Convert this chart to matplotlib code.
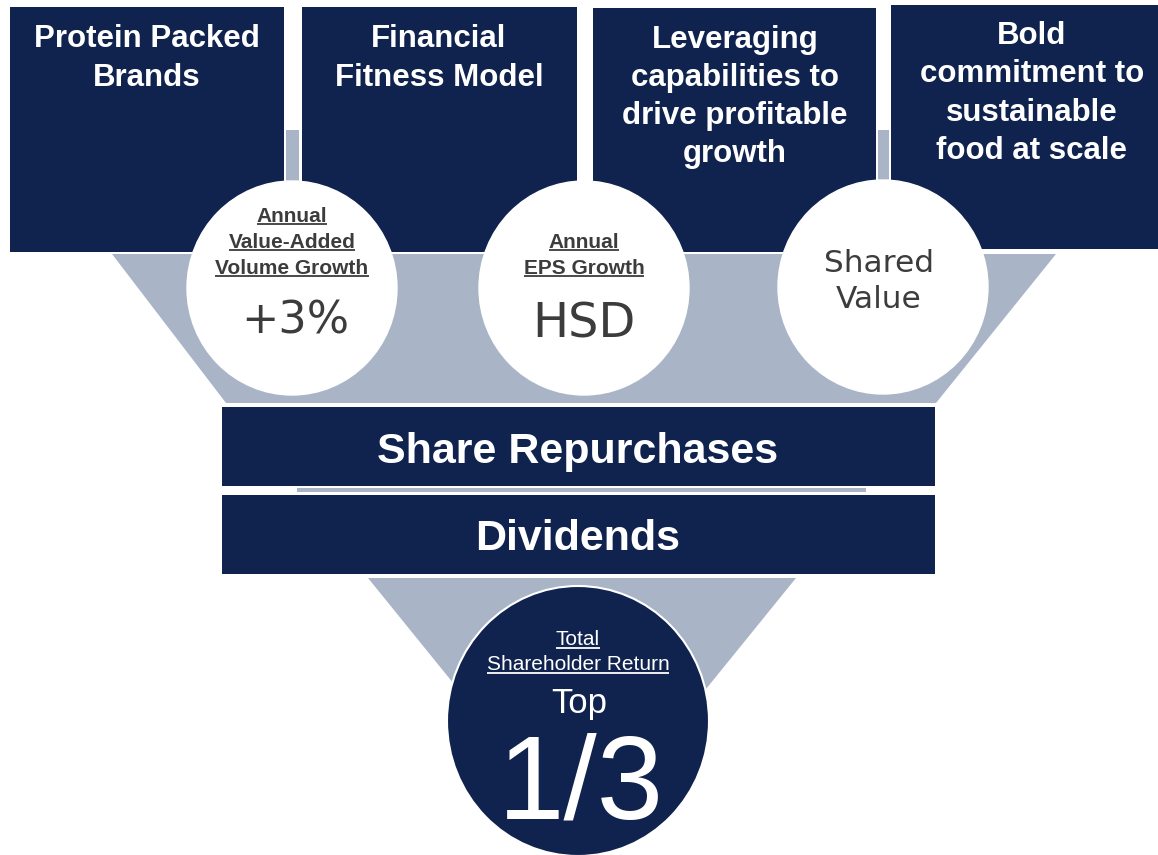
import matplotlib
matplotlib.use("Agg")
import matplotlib.pyplot as plt
from matplotlib.patches import Rectangle, Ellipse, Polygon

# ---------------- content ----------------
pillar_titles = [
    ["Protein Packed", "Brands"],
    ["Financial", "Fitness Model"],
    ["Leveraging", "capabilities to", "drive profitable", "growth"],
    ["Bold", "commitment to", "sustainable", "food at scale"],
]
metric_headings = [
    ["Annual", "Value-Added", "Volume Growth"],
    ["Annual", "EPS Growth"],
    [],
]
metric_values = [["+3%"], ["HSD"], ["Shared", "Value"]]
return_levers = ["Share Repurchases", "Dividends"]
tsr_heading = ["Total", "Shareholder Return"]
tsr_values = ["Top", "1/3"]

# ---------------- style / layout ----------------
NAVY = "#10234F"
GREY = "#A9B5C7"
DARK = "#3C3C3C"
W, H = 1158, 855

fig = plt.figure(figsize=(W / 100, H / 100), dpi=100)
ax = fig.add_axes([0, 0, 1, 1])
ax.set_xlim(0, W)
ax.set_ylim(H, 0)
ax.axis("off")

# pillar boxes (x0, x1, y0, y1)
boxes = [(10, 284, 7, 252), (302, 577, 7, 252), (593, 876, 8, 252), (891, 1158, 5, 249)]
title_cx = [147, 439, 735, 1032]
title_base = [[47, 86], [47, 86], [48, 86, 124, 162], [44, 82, 121, 159]]

# grey connectors between boxes
ax.add_patch(Rectangle((286, 130), 13, 122, facecolor=GREY, edgecolor="none", zorder=1))
ax.add_patch(Rectangle((878, 130), 11, 50, facecolor=GREY, edgecolor="none", zorder=1))

# funnel trapezoid
ax.add_patch(Polygon([(112, 254), (1056, 254), (936, 403), (226, 403)],
                     closed=True, facecolor=GREY, edgecolor="none", zorder=1))

for (x0, x1, y0, y1), cx, lines, bases in zip(boxes, title_cx, pillar_titles, title_base):
    ax.add_patch(Rectangle((x0, y0), x1 - x0, y1 - y0, facecolor=NAVY, edgecolor="none", zorder=2))
    for txt, b in zip(lines, bases):
        ax.text(cx, b, txt, ha="center", va="baseline", color="white",
                fontsize=22.5, fontweight="bold", family="Liberation Sans", zorder=5)

# metric circles
circ_c = [(292, 288), (584, 288), (883, 287)]
for (cx, cy) in circ_c:
    ax.add_patch(Ellipse((cx, cy), 210, 214, facecolor="white", edgecolor="white",
                         lw=1.0, zorder=3))

underlined = []
head_base = [[222, 248, 274], [248, 274], []]
for (cx, cy), heads, bases in zip(circ_c, metric_headings, head_base):
    for txt, b in zip(heads, bases):
        t = ax.text(cx, b, txt, ha="center", va="baseline", color=DARK,
                    fontsize=15, fontweight="bold", family="Liberation Sans", zorder=5)
        underlined.append((t, b, DARK))

val_base = [[333], [337], [272, 308]]
val_size = [32, 34.5, 22.5]
val_cx = [295, 584, 879]
for cx, vals, bases, fs in zip(val_cx, metric_values, val_base, val_size):
    for txt, b in zip(vals, bases):
        ax.text(cx, b, txt, ha="center", va="baseline", color=DARK,
                fontsize=fs, family="DejaVu Sans", zorder=5)

# lever bars
bar_y = [(407, 486), (495, 574)]
bar_base = [463, 550]
ax.add_patch(Rectangle((297, 488), 569, 4, facecolor=GREY, edgecolor="none", zorder=1))
for (y0, y1), txt, b in zip(bar_y, return_levers, bar_base):
    ax.add_patch(Rectangle((222, y0), 713, y1 - y0, facecolor=NAVY, edgecolor="none", zorder=2))
    ax.text(578, b, txt, ha="center", va="baseline", color="white",
            fontsize=31, fontweight="bold", family="Liberation Sans", zorder=5)

# bottom funnel triangle
ax.add_patch(Polygon([(368, 578), (796, 578), (582, 842)], closed=True,
                     facecolor=GREY, edgecolor="none", zorder=1))

# TSR circle
ax.add_patch(Ellipse((578, 721), 262, 270, facecolor=NAVY, edgecolor="white", lw=1.5, zorder=3))
for txt, b in zip(tsr_heading, [645, 670]):
    t = ax.text(578, b, txt, ha="center", va="baseline", color="white",
                fontsize=15, family="Liberation Sans", zorder=5)
    underlined.append((t, b, "white"))
ax.text(579, 713, tsr_values[0], ha="center", va="baseline", color="white",
        fontsize=25, family="Liberation Sans", zorder=5)
ax.text(581, 818, tsr_values[1], ha="center", va="baseline", color="white",
        fontsize=86, family="Liberation Sans", zorder=5)

# underlines
fig.canvas.draw()
renderer = fig.canvas.get_renderer()
inv = ax.transData.inverted()
for t, b, col in underlined:
    bb = t.get_window_extent(renderer)
    (xa, _), (xb, _) = inv.transform([[bb.x0, bb.y0], [bb.x1, bb.y1]])
    ax.plot([xa, xb], [b + 2.5, b + 2.5], color=col, lw=1.3, zorder=5,
            solid_capstyle="butt")

fig.savefig("out.png", dpi=100, facecolor="white")
